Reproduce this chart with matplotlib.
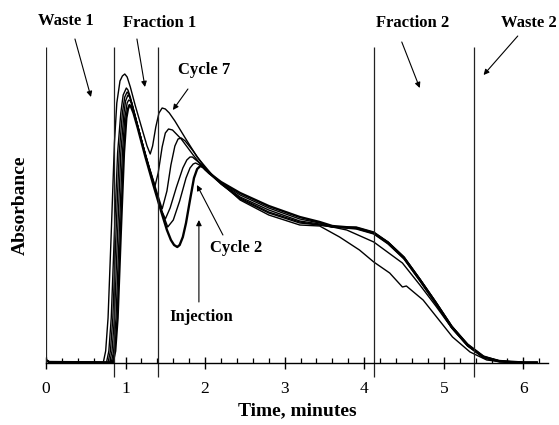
import numpy as np
import matplotlib
matplotlib.use("Agg")
import matplotlib.pyplot as plt

# absorbance traces, one per recycling cycle
cycle2_t = [0, 0.04, 0.84, 0.87, 0.90, 0.94, 0.98, 1.01, 1.03, 1.05, 1.07, 1.10, 1.15, 1.25, 1.35, 1.45, 1.52, 1.57,
            1.61, 1.65, 1.68, 1.72, 1.76, 1.81, 1.86, 1.90, 1.94, 1.98, 2.05, 2.20, 2.44, 2.80, 3.19, 3.44, 3.60,
            3.90, 4.12, 4.30, 4.50, 4.70, 4.90, 5.10, 5.30, 5.50, 5.70, 6.00, 6.17]
cycle2_a = [0.03, 0.01, 0.005, 0.12, 0.45, 1.30, 2.10, 2.45, 2.54, 2.58, 2.56, 2.50, 2.36, 2.06, 1.78, 1.51, 1.33, 1.23,
            1.18, 1.16, 1.18, 1.26, 1.40, 1.63, 1.85, 1.94, 1.97, 1.96, 1.90, 1.81, 1.70, 1.57, 1.46, 1.41, 1.37,
            1.35, 1.30, 1.20, 1.05, 0.83, 0.60, 0.36, 0.18, 0.06, 0.02, 0.005, 0.005]

cycle3_t = [0, 0.04, 0.82, 0.85, 0.88, 0.92, 0.96, 0.99, 1.02, 1.04, 1.06, 1.09, 1.15, 1.25, 1.35, 1.45, 1.53, 1.60,
            1.68, 1.76, 1.81, 1.85, 1.88, 1.93, 2.05, 2.20, 2.44, 2.80, 3.19, 3.44, 3.60, 3.90, 4.12, 4.30, 4.50,
            4.70, 4.90, 5.10, 5.30, 5.50, 5.70, 6.00, 6.17]
cycle3_a = [0.03, 0.01, 0.005, 0.12, 0.45, 1.30, 2.10, 2.45, 2.60, 2.63, 2.62, 2.56, 2.38, 2.08, 1.80, 1.53, 1.36, 1.43,
            1.62, 1.85, 1.95, 1.99, 2.00, 1.98, 1.90, 1.80, 1.68, 1.55, 1.44, 1.40, 1.36, 1.36, 1.31, 1.21, 1.06,
            0.84, 0.61, 0.37, 0.19, 0.07, 0.02, 0.005, 0.005]

cycle4_t = [0, 0.04, 0.80, 0.83, 0.86, 0.90, 0.94, 0.98, 1.00, 1.03, 1.05, 1.08, 1.15, 1.25, 1.35, 1.45, 1.50, 1.56,
            1.64, 1.72, 1.77, 1.81, 1.84, 1.90, 2.00, 2.20, 2.44, 2.80, 3.19, 3.44, 3.60, 3.90, 4.12, 4.30, 4.50,
            4.70, 4.90, 5.10, 5.30, 5.50, 5.70, 6.00, 6.17]
cycle4_a = [0.03, 0.01, 0.005, 0.12, 0.45, 1.30, 2.10, 2.50, 2.62, 2.68, 2.66, 2.60, 2.38, 2.08, 1.80, 1.53, 1.44, 1.55,
            1.76, 1.95, 2.03, 2.06, 2.06, 2.02, 1.95, 1.80, 1.66, 1.53, 1.42, 1.39, 1.36, 1.34, 1.29, 1.19, 1.04,
            0.82, 0.59, 0.35, 0.17, 0.06, 0.02, 0.005, 0.005]

cycle5_t = [0, 0.04, 0.78, 0.81, 0.84, 0.88, 0.92, 0.96, 0.99, 1.02, 1.04, 1.07, 1.15, 1.25, 1.35, 1.46, 1.52, 1.57,
            1.62, 1.66, 1.70, 1.75, 1.85, 2.00, 2.20, 2.44, 2.80, 3.19, 3.44, 3.60, 3.90, 4.12, 4.30, 4.50, 4.70,
            4.90, 5.10, 5.30, 5.50, 5.70, 6.00, 6.17]
cycle5_a = [0.03, 0.01, 0.005, 0.12, 0.45, 1.30, 2.10, 2.50, 2.66, 2.71, 2.69, 2.62, 2.38, 2.08, 1.82, 1.54, 1.72, 1.98,
            2.17, 2.24, 2.25, 2.22, 2.12, 1.95, 1.79, 1.65, 1.51, 1.41, 1.38, 1.36, 1.35, 1.30, 1.21, 1.06, 0.84,
            0.61, 0.37, 0.18, 0.06, 0.02, 0.005, 0.005]

cycle6_t = [0, 0.04, 0.76, 0.79, 0.82, 0.86, 0.90, 0.94, 0.97, 1.01, 1.03, 1.06, 1.10, 1.20, 1.30, 1.37, 1.41, 1.46,
            1.50, 1.54, 1.59, 1.70, 1.85, 2.00, 2.20, 2.44, 2.80, 3.19, 3.44, 3.60, 3.78, 4.12, 4.48, 4.70, 4.90,
            5.10, 5.30, 5.50, 5.70, 6.00, 6.17]
cycle6_a = [0.03, 0.01, 0.005, 0.12, 0.45, 1.30, 2.10, 2.50, 2.68, 2.75, 2.73, 2.66, 2.52, 2.23, 1.95, 1.77, 1.90, 2.16,
            2.30, 2.34, 2.33, 2.24, 2.08, 1.93, 1.79, 1.64, 1.50, 1.40, 1.38, 1.36, 1.33, 1.21, 1.00, 0.78, 0.57,
            0.35, 0.17, 0.05, 0.01, 0.005, 0.005]

cycle7_t = [0, 0.04, 0.72, 0.75, 0.78, 0.82, 0.86, 0.89, 0.93, 0.96, 0.99, 1.02, 1.06, 1.12, 1.20, 1.27, 1.31, 1.34,
            1.38, 1.42, 1.46, 1.50, 1.55, 1.62, 1.75, 1.90, 2.10, 2.30, 2.44, 2.80, 3.19, 3.44, 3.69, 3.94, 4.12,
            4.32, 4.48, 4.53, 4.74, 4.91, 5.11, 5.33, 5.54, 5.80, 6.17]
cycle7_a = [0.03, 0.01, 0.005, 0.12, 0.45, 1.30, 2.20, 2.60, 2.82, 2.87, 2.89, 2.86, 2.76, 2.58, 2.36, 2.17, 2.09, 2.17,
            2.36, 2.50, 2.55, 2.54, 2.50, 2.42, 2.25, 2.06, 1.87, 1.73, 1.63, 1.48, 1.38, 1.37, 1.26, 1.13, 1.01,
            0.90, 0.76, 0.77, 0.63, 0.46, 0.26, 0.11, 0.03, 0.005, 0.005]

# valve switching times (minutes)
cut_times = [0.85, 1.41, 4.12, 5.38]
x_ticks = [0, 1, 2, 3, 4, 5, 6]

serif = ["Liberation Serif", "DejaVu Serif"]
plt.rcParams["font.family"] = serif

fig = plt.figure(figsize=(5.59, 4.25), dpi=100)
ax = fig.add_axes([46 / 559, 42 / 425, 502 / 559, 383 / 425])

traces = [(cycle2_t, cycle2_a, 1.7), (cycle3_t, cycle3_a, 1.0), (cycle4_t, cycle4_a, 1.0),
          (cycle5_t, cycle5_a, 1.0), (cycle6_t, cycle6_a, 1.0), (cycle7_t, cycle7_a, 1.0)]
for t, a, lw in traces:
    ax.plot(t, a, color="black", lw=lw, solid_joinstyle="round")

# fraction cut lines
ax.vlines(0, 0, 3.16, color="#222222", lw=0.9)
ax.vlines(cut_times, -0.14, 3.16, color="#222222", lw=0.9)

ax.set_xlim(0, 6.31)
ax.set_ylim(-0.2, 3.63)
for s in ["left", "right", "top"]:
    ax.spines[s].set_visible(False)
ax.spines["bottom"].set_position(("data", 0))
ax.spines["bottom"].set_linewidth(1.0)
ax.set_yticks([])
ax.set_xticks(x_ticks)
ax.set_xticks(np.arange(0, 6.3, 0.2), minor=True)
ax.tick_params(axis="x", which="major", direction="inout", length=8, width=1.0, pad=9, labelsize=12.5)
ax.tick_params(axis="x", which="minor", direction="in", length=3.5, width=0.9)

bold = dict(fontsize=12, fontweight="bold", ha="center", va="center")
arrow = dict(arrowstyle="-|>", lw=0.8, color="black", mutation_scale=8, shrinkA=0, shrinkB=0)

labels = [
    ("Waste 1", (0.25, 3.42), (0.364, 3.24), (0.565, 2.66)),
    ("Fraction 1", (1.432, 3.40), (1.143, 3.24), (1.244, 2.76)),
    ("Cycle 7", (1.985, 2.93), (1.784, 2.74), (1.595, 2.53)),
    ("Fraction 2", (4.61, 3.40), (4.472, 3.21), (4.698, 2.75)),
    ("Waste 2", (6.07, 3.40), (5.93, 3.27), (5.50, 2.88)),
    ("Cycle 2", (2.387, 1.15), (2.224, 1.28), (1.897, 1.78)),
    ("Injection", (1.947, 0.46), (1.922, 0.61), (1.922, 1.43)),
]
for txt, pos, tail, head in labels:
    ax.text(pos[0], pos[1], txt, clip_on=False, **bold)
    ax.annotate("", xy=head, xytext=tail, arrowprops=arrow, annotation_clip=False)

fig.text(20 / 559, 1 - 205 / 425, "Absorbance", rotation=90, fontsize=14, fontweight="bold",
         ha="center", va="center")
fig.text(297 / 559, 1 - 411 / 425, "Time, minutes", fontsize=14, fontweight="bold",
         ha="center", va="center")

plt.savefig("out.png", dpi=100)
